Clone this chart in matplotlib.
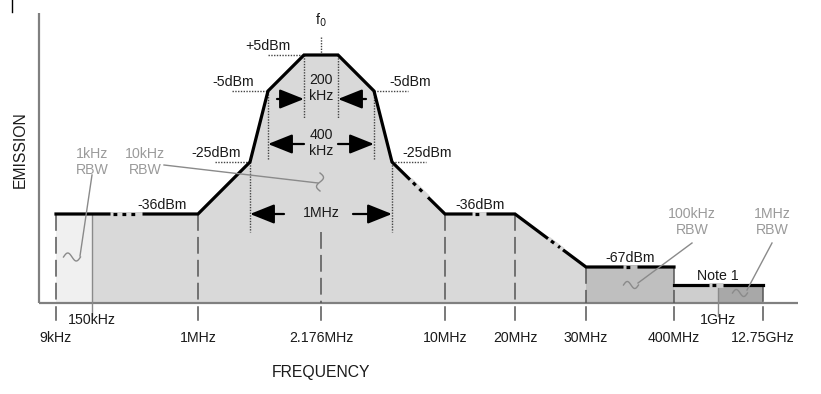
#coding:utf-8
'''
Spectrum emission mask sketch (schematic, not to scale)
'''
import numpy as np
import matplotlib
matplotlib.use('Agg')
import matplotlib.pyplot as plt
from matplotlib import font_manager

# ---- data ----
freq_labels = ['9kHz', '150kHz', '1MHz', '2.176MHz', '10MHz', '20MHz',
               '30MHz', '400MHz', '1GHz', '12.75GHz']
level_labels = ['+5dBm', '-5dBm', '-25dBm', '-36dBm', '-67dBm', 'Note 1']
bw_labels = ['200\nkHz', '400\nkHz', '1MHz']
rbw_labels = ['1kHz\nRBW', '10kHz\nRBW', '100kHz\nRBW', '1MHz\nRBW']

# ---- schematic layout (diagram is not to scale) ----
freq_x = dict(zip(freq_labels, [56, 92, 198, 321, 445, 515, 586, 674, 718, 763]))
level_y = dict(zip(level_labels, [55, 91, 162, 214, 267, 285]))
bw_half = dict(zip(bw_labels, [17, 53, 71]))
base_y = 303

names = {f.name for f in font_manager.fontManager.ttflist}
if 'Liberation Sans Narrow' in names:
    NARROW, FS = 'Liberation Sans Narrow', 11
else:
    NARROW, FS = 'Liberation Sans', 10.2

fig = plt.figure(figsize=(8.21, 3.94), dpi=100)
ax = fig.add_axes([0, 0, 1, 1])
ax.set_xlim(0, 821)
ax.set_ylim(394, 0)
ax.axis('off')

f0 = freq_x['2.176MHz']
x_in = lambda k: f0 - bw_half[k]
x_out = lambda k: f0 + bw_half[k]

# mask corner points
mask_x = [freq_x['9kHz'], freq_x['1MHz'], x_in('1MHz'), x_in('400\nkHz'), x_in('200\nkHz'),
          x_out('200\nkHz'), x_out('400\nkHz'), x_out('1MHz'), freq_x['10MHz'], freq_x['20MHz'],
          freq_x['30MHz'], freq_x['400MHz']]
mask_y = [level_y[k] for k in ['-36dBm', '-36dBm', '-25dBm', '-5dBm', '+5dBm', '+5dBm',
                               '-5dBm', '-25dBm', '-36dBm', '-36dBm', '-67dBm', '-67dBm']]
note_x = [freq_x['400MHz'], freq_x['12.75GHz']]
note_y = [level_y['Note 1'], level_y['Note 1']]

# fills
ax.fill_between([freq_x['9kHz'], freq_x['150kHz']], level_y['-36dBm'], base_y, color='#f0f0f0', lw=0)
mx = np.array(mask_x[:11], float)
my = np.array(mask_y[:11], float)
ax.fill_between(np.concatenate([[freq_x['150kHz']], mx[1:]]),
                np.concatenate([[level_y['-36dBm']], my[1:]]),
                base_y, color='#d9d9d9', lw=0)
ax.fill_between([freq_x['30MHz'], freq_x['400MHz']], level_y['-67dBm'], base_y, color='#bfbfbf', lw=0)
ax.fill_between([freq_x['400MHz'], freq_x['1GHz']], level_y['Note 1'], base_y, color='#cecece', lw=0)
ax.fill_between([freq_x['1GHz'], freq_x['12.75GHz']], level_y['Note 1'], base_y, color='#a8a8a8', lw=0)

# axes lines
ax.plot([39, 39], [13, base_y], color='#808080', lw=1.6, solid_capstyle='butt')
ax.plot([39, 798], [base_y, base_y], color='#808080', lw=1.6, solid_capstyle='butt')
ax.plot([12, 12], [0, 12], color='black', lw=1)

# vertical dashed frequency lines + ticks below the axis
tops = {'9kHz': '-36dBm', '1MHz': '-36dBm', '10MHz': '-36dBm', '20MHz': '-36dBm',
        '30MHz': '-67dBm', '400MHz': '-67dBm', '12.75GHz': 'Note 1'}
for k, lv in tops.items():
    ax.plot([freq_x[k]] * 2, [level_y[lv], base_y], color='#555555', lw=1.1, dashes=(11, 4))
    ax.plot([freq_x[k]] * 2, [307, 320], color='#555555', lw=1.1)
ax.plot([f0] * 2, [232, base_y], color='#555555', lw=1.1, dashes=(11, 4))
ax.plot([f0] * 2, [307, 320], color='#555555', lw=1.1)
ax.plot([freq_x['150kHz']] * 2, [level_y['-36dBm'], 316], color='#8a8a8a', lw=1)
ax.plot([freq_x['1GHz']] * 2, [level_y['Note 1'], 316], color='#8a8a8a', lw=1)

# dotted guides
dot = dict(color='#444444', lw=1, linestyle=(0, (1, 1)))
for k, (y0, y1) in [('1MHz', (162, 232)), ('400\nkHz', (91, 160)), ('200\nkHz', (55, 118))]:
    ax.plot([x_in(k)] * 2, [y0, y1], **dot)
    ax.plot([x_out(k)] * 2, [y0, y1], **dot)
ax.plot([f0, f0], [37, level_y['+5dBm']], **dot)
ax.plot([x_in('400\nkHz'), x_in('200\nkHz')], [level_y['+5dBm']] * 2, **dot)
ax.plot([232, x_in('400\nkHz')], [level_y['-5dBm']] * 2, **dot)
ax.plot([x_out('400\nkHz'), 408], [level_y['-5dBm']] * 2, **dot)
ax.plot([215, x_in('1MHz')], [level_y['-25dBm']] * 2, **dot)
ax.plot([x_out('1MHz'), 426], [level_y['-25dBm']] * 2, **dot)

# the mask
ax.plot(mask_x, mask_y, color='black', lw=2.3, solid_joinstyle='miter', zorder=5)
ax.plot(note_x, note_y, color='black', lw=2.3, zorder=5)

# scale breaks on the mask
def brk(x0, x1, xs, ys, bg):
    y0 = np.interp(x0, xs, ys)
    y1 = np.interp(x1, xs, ys)
    ax.plot([x0, x1], [y0, y1], color=bg, lw=3.5, zorder=6, solid_capstyle='butt')
    ax.plot([x0 + 3, x1 - 3], [np.interp(x0 + 3, xs, ys), np.interp(x1 - 3, xs, ys)],
            color='black', lw=2.3, zorder=7, dashes=(1.2, 1.6))

brk(110, 142, mask_x[:2], mask_y[:2], '#d9d9d9')
brk(410, 428, mask_x[7:9], mask_y[7:9], '#d9d9d9')
brk(472, 486, mask_x[8:10], mask_y[8:10], '#d9d9d9')
brk(548, 563, mask_x[9:11], mask_y[9:11], '#d9d9d9')
brk(623, 637, mask_x[10:12], mask_y[10:12], '#bfbfbf')
brk(709, 723, note_x, note_y, '#cecece')

# bandwidth arrows
arr = dict(arrowstyle='-|>,head_length=0.75,head_width=0.3', color='black', lw=1.6,
           mutation_scale=20, shrinkA=0, shrinkB=0)
ax.annotate('', xy=(x_in('200\nkHz'), 99), xytext=(277, 99), arrowprops=arr)
ax.annotate('', xy=(x_out('200\nkHz'), 99), xytext=(366, 99), arrowprops=arr)
ax.annotate('', xy=(x_in('400\nkHz'), 144), xytext=(304, 144), arrowprops=arr)
ax.annotate('', xy=(x_out('400\nkHz'), 144), xytext=(338, 144), arrowprops=arr)
ax.annotate('', xy=(x_in('1MHz'), 214), xytext=(284, 214), arrowprops=arr)
ax.annotate('', xy=(x_out('1MHz'), 214), xytext=(353, 214), arrowprops=arr)

txt = dict(family=NARROW, fontsize=FS, color='#1a1a1a', ha='center', va='center')
ax.text(f0, 88, bw_labels[0], linespacing=1.1, **txt)
ax.text(f0, 143, bw_labels[1], linespacing=1.1, **txt)
ax.text(f0, 213, bw_labels[2], **txt)
ax.text(f0, 20, 'f$_0$', **txt)

# level labels
lvl_pos = [('+5dBm', 268, 46), ('-5dBm', 233, 82), ('-5dBm', 410, 82),
           ('-25dBm', 216, 153), ('-25dBm', 427, 153), ('-36dBm', 162, 205),
           ('-36dBm', 480, 205), ('-67dBm', 630, 258), ('Note 1', 718, 276)]
for s, x, y in lvl_pos:
    ax.text(x, y, s, **txt)

# frequency labels
for k in freq_labels:
    y = 320 if k in ('150kHz', '1GHz') else 338
    ax.text(freq_x[k], y, k, **txt)

# RBW call-outs
def squiggle(cx, cy, L, A, ang):
    s = np.linspace(-1, 1, 40)
    u, v = s * L / 2, A * np.sin(np.pi * s)
    a = np.deg2rad(ang)
    ax.plot(cx + u * np.cos(a) - v * np.sin(a), cy + u * np.sin(a) + v * np.cos(a),
            color='#8a8a8a', lw=1, zorder=8)

gtxt = dict(txt, color='#9a9a9a')
rbw_pos = [(92, 162), (145, 162), (692, 222), (772, 222)]
leaders = [((92, 175), (80, 256)), ((164, 165), (318, 183)),
           ((692, 243), (638, 283)), ((772, 243), (747, 290))]
squigs = [(72, 257, 17, 4, 0), (320, 182, 18, 3.5, 90), (631, 285, 15, 3.5, 0), (740, 293, 15, 3.5, 0)]
for s, (x, y), (p0, p1), q in zip(rbw_labels, rbw_pos, leaders, squigs):
    ax.text(x, y, s, linespacing=1.1, **gtxt)
    ax.plot([p0[0], p1[0]], [p0[1], p1[1]], color='#8a8a8a', lw=1, zorder=8)
    squiggle(*q)

ax.text(20, 150, 'EMISSION', family='Liberation Sans', fontsize=11.3, rotation=90,
        ha='center', va='center', color='#1a1a1a')
ax.text(321, 373, 'FREQUENCY', family='Liberation Sans', fontsize=11.3,
        ha='center', va='center', color='#1a1a1a')

plt.savefig('out.png', dpi=100)
